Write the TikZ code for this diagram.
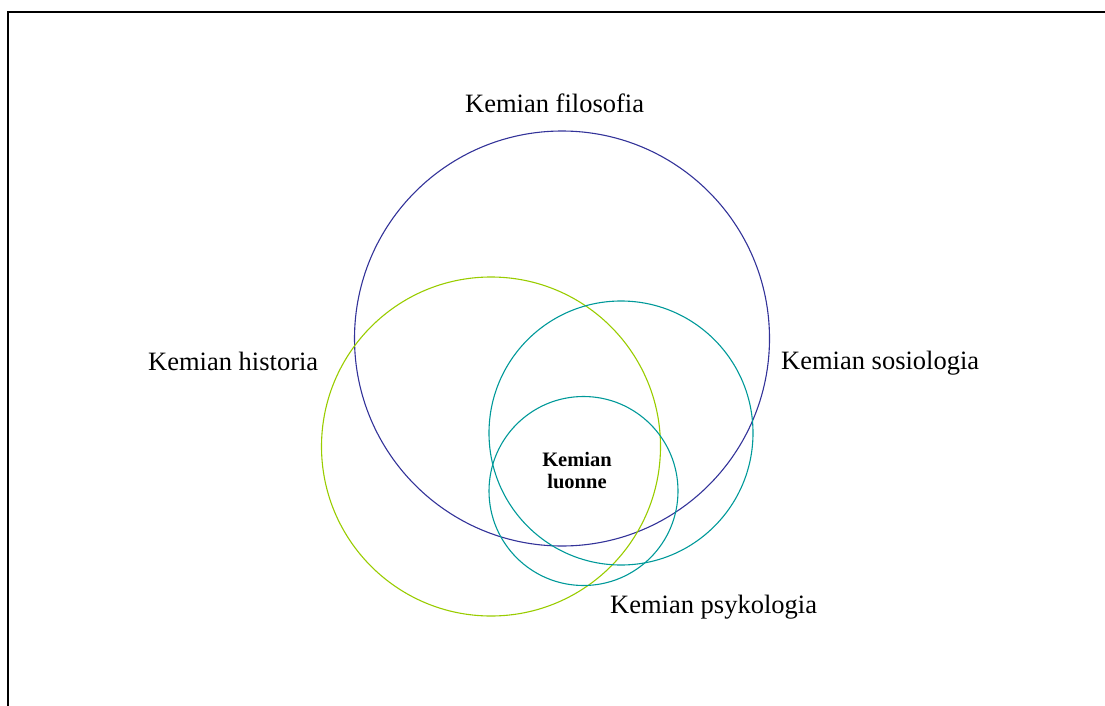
\documentclass[tikz,border=0pt]{standalone}
\usepackage{fontspec}
\setmainfont{Liberation Serif}
\definecolor{navy}{RGB}{51,51,153}
\definecolor{lime}{RGB}{153,204,0}
\definecolor{teal2}{RGB}{0,153,153}
\begin{document}
\begin{tikzpicture}[x=1pt,y=-1pt,
  ring/.style={circle,draw,line width=1.1pt,inner sep=0pt},
  lbl/.style={anchor=base west,inner sep=0pt,font=\fontsize{26.5}{30}\selectfont}]
\useasboundingbox (0,0) rectangle (1105,706);
\draw[line width=2pt] (8,720) -- (8,12) -- (1120,12);
\node[ring,draw=navy,minimum size=415pt] (phil) at (562,338.5) {};
\node[ring,draw=lime,minimum size=339pt] (hist) at (491,446.5) {};
\node[ring,draw=teal2,minimum size=264pt] (soc) at (621,433) {};
\node[ring,draw=teal2,minimum size=189pt] (psy) at (583.5,491) {};
\node[lbl] (tphil) at (465,113) {Kemian filosofia};
\node[lbl] (thist) at (148,370) {Kemian historia};
\node[lbl] (tsoc) at (781,369) {Kemian sosiologia};
\node[lbl] (tpsy) at (610,613) {Kemian psykologia};
\node[anchor=center,inner sep=0pt,align=center,font=\bfseries\fontsize{20.5}{22}\selectfont] (core) at (577,471) {Kemian\\luonne};
\end{tikzpicture}
\end{document}
